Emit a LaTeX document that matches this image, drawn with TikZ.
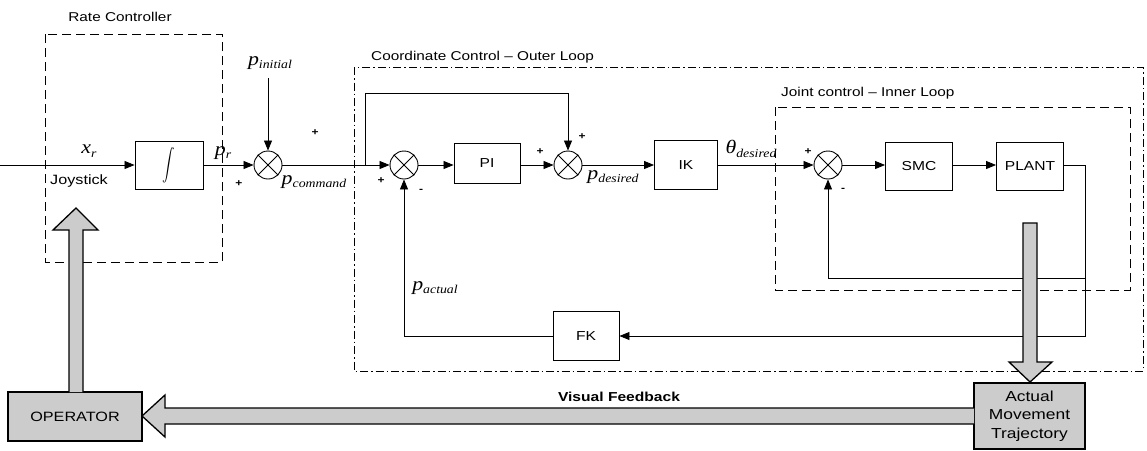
\RequirePackage{fix-cm}
\documentclass[tikz,border=0pt]{standalone}
\usepackage{fontspec}
\setmainfont{Liberation Sans}[FakeStretch=1.2]
\newfontfamily\tmsit{Liberation Serif}[FakeStretch=1.15]
\newcommand{\sigl}[2]{{\fontsize{19}{21}\selectfont\tmsit\itshape #1}\raisebox{-0.35em}{\fontsize{12}{13}\selectfont\tmsit\itshape #2}}
\usetikzlibrary{arrows.meta,calc}
\begin{document}
\begin{tikzpicture}[x=1pt,y=-1pt,
  blk/.style={draw,line width=0.9pt,inner sep=0pt,font=\fontsize{13}{15}\selectfont},
  sumj/.style={draw,circle,line width=0.9pt,minimum size=28pt,inner sep=0pt},
  wire/.style={line width=0.8pt},
  arr/.style={wire,-{Triangle[length=10pt,width=8pt]}},
  lbl/.style={font=\fontsize{12.8}{14}\selectfont,inner sep=0pt},
  mth/.style={inner sep=0pt},
  sgn/.style={font=\fontsize{10}{11}\selectfont\bfseries,inner sep=0pt},
  fat/.style={draw=black,line width=1.3pt,fill=gray!40,line join=miter},
  dashbox/.style={line width=1pt,dash pattern=on 9pt off 5pt},
  dotbox/.style={line width=0.9pt,dash pattern=on 8pt off 3pt on 1.5pt off 3pt},
]
\useasboundingbox (0,0) rectangle (1147,450);

% enclosing boxes
\draw[dashbox] (45,34) rectangle (222,262);
\node[lbl] (rclab) at (120,17) {Rate Controller};
\draw[dotbox] (354,67) rectangle (1143,371);
\node[lbl,anchor=west] (oclab) at (371,57) {Coordinate Control -- Outer Loop};
\draw[dashbox] (775,107) rectangle (1130,290);
\node[lbl,anchor=west] (iclab) at (781,93) {Joint control -- Inner Loop};

% blocks
\node[blk,minimum width=68pt,minimum height=48pt] (int) at (169,165) {\scalebox{1.25}[1.6]{$\displaystyle\int$}};
\node[sumj] (s1) at (268,165) {};
\node[sumj] (s2) at (404,165) {};
\node[blk,minimum width=66pt,minimum height=40pt] (pi) at (487,163) {PI};
\node[sumj] (s3) at (568,165) {};
\node[blk,minimum width=63pt,minimum height=49pt] (ik) at (686,165) {IK};
\node[sumj] (s4) at (828,165) {};
\node[blk,minimum width=67pt,minimum height=48pt] (smc) at (919,166) {SMC};
\node[blk,minimum width=67pt,minimum height=48pt] (plant) at (1030,166) {PLANT};
\node[blk,minimum width=66pt,minimum height=49pt] (fk) at (586,336) {FK};

\foreach \s in {s1,s2,s3,s4}
  \draw[wire] (\s.north east) -- (\s.south west) (\s.north west) -- (\s.south east);

% signal labels
\node[mth] (xr) at (89,151) {\sigl{x}{r}};
\node[lbl,font=\fontsize{13.5}{15}\selectfont] (joy) at (79,181) {Joystick};
\node[mth] (pr) at (223,153) {\sigl{p}{r}};
\node[mth] (pinit) at (270,63) {\sigl{p}{initial}};
\node[mth] (pcmd) at (314,182) {\sigl{p}{command}};
\node[mth] (pdes) at (613,177) {\sigl{p}{desired}};
\node[mth] (thdes) at (751,149) {\sigl{θ}{desired}};
\node[mth] (pact) at (435,288) {\sigl{p}{actual}};

% signs
\node[sgn] at (239,184) {+};
\node[sgn] at (315,133) {+};
\node[sgn] at (381,181) {+};
\node[sgn] at (421,191) {-};
\node[sgn] at (540,152) {+};
\node[sgn] at (582,137) {+};
\node[sgn] at (808,152) {+};
\node[sgn] at (843,190) {-};

% connectors
\coordinate (in) at (0,165);
\draw[arr] (in) -- (int.west |- in);
\draw[arr] (int.east |- in) -- (s1.west);
\coordinate (pi0) at (268,78);
\draw[arr] (pi0) -- (s1.north);
\draw[arr] (s1.east) -- (s2.west);
\coordinate (ff) at (365,165);
\draw[arr] (ff) -- (365,93) -| (s3.north);
\draw[arr] (s2.east) -- (pi.west |- s2);
\draw[arr] (pi.east |- s3) -- (s3.west);
\draw[arr] (s3.east) -- (ik.west |- s3);
\draw[arr] (ik.east |- s4) -- (s4.west);
\draw[arr] (s4.east) -- (smc.west |- s4);
\draw[arr] (smc.east |- s4) -- (plant.west |- s4);
\coordinate (po) at (1085,165);
\coordinate (pf) at (1085,278);
\coordinate (pb) at (1085,336);
\draw[arr] (plant.east |- po) -- (po) -- (pb) -- (fk.east);
\draw[arr] (pf) -- (pf -| s4) -- (s4.south);
\draw[arr] (fk.west) -- (fk.west -| s2) -- (s2.south);

% operator and trajectory boxes
\node[fat,minimum width=134pt,minimum height=49pt,inner sep=0pt,font=\fontsize{13.5}{15}\selectfont] (op) at (75,416.5) {OPERATOR};
\node[fat,minimum width=111pt,minimum height=66pt,inner sep=0pt,align=center,font=\fontsize{14.5}{18.5}\selectfont] (amt) at (1029.5,416) {Actual\\Movement\\Trajectory};

% fat arrows
\draw[fat] (69,392) -- (69,230) -- (53,230) -- (76,208) -- (98,230) -- (83,230) -- (83,392);
\draw[fat] (1023,223) -- (1037,223) -- (1037,362) -- (1052,362) -- (1030,382) -- (1009,362) -- (1023,362) -- cycle;
\draw[fat] (974,408) -- (165,408) -- (165,395) -- (142,416) -- (165,437) -- (165,424) -- (974,424);
\node[font=\fontsize{13}{15}\selectfont\bfseries,inner sep=0pt] (vf) at (619,397) {Visual Feedback};
\end{tikzpicture}
\end{document}
